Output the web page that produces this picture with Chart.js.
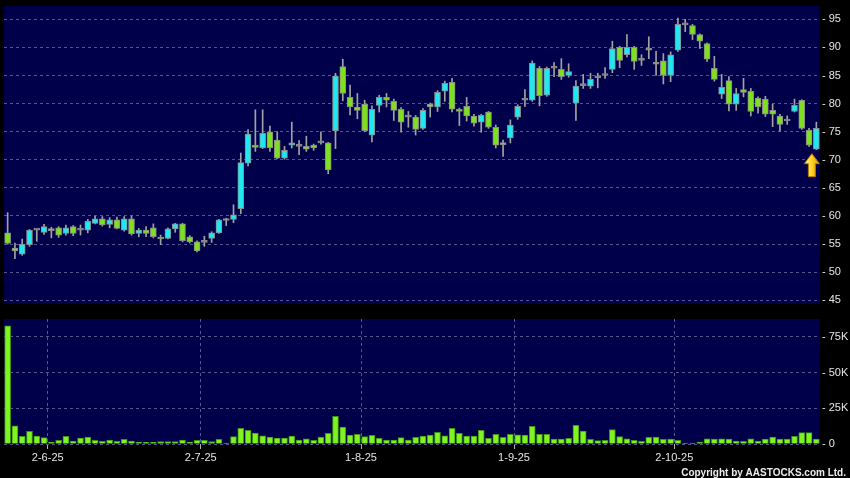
<!DOCTYPE html>
<html><head><meta charset="utf-8">
<script src="https://cdn.jsdelivr.net/npm/chart.js@4"></script>
<style>
html,body{margin:0;padding:0;background:#000;}
#wrap{position:relative;width:850px;height:478px;background:#000;overflow:hidden;}
canvas{position:absolute;left:0;}
#c1{top:0;} #c2{top:310px;}
</style></head><body>
<div id="wrap"><canvas id="c1" width="850" height="310"></canvas><canvas id="c2" width="850" height="168"></canvas></div>
<script>
const openP  = [57.0,54.3,53.2,54.9,57.5,57.1,57.4,57.9,56.9,58.1,57.5,57.5,58.7,59.5,58.5,59.3,57.5,59.5,56.9,57.5,57.9,56.2,56.0,57.7,58.6,56.3,55.4,55.3,56.0,57.0,59.2,59.4,61.3,69.4,72.6,72.1,75.0,73.5,70.3,72.6,72.4,72.4,72.6,73.0,73.0,75.2,86.6,81.1,79.4,79.9,74.4,79.7,81.1,80.4,79.0,77.6,77.6,75.6,79.9,79.4,82.2,83.8,79.0,79.5,77.8,76.7,78.5,75.8,73.0,73.9,77.6,80.6,80.6,86.3,81.5,86.3,86.1,85.0,80.1,83.2,83.1,84.6,85.0,86.1,90.0,88.7,90.0,87.7,89.5,87.0,87.6,85.0,89.5,94.0,93.9,92.3,90.7,86.3,81.7,84.1,79.9,82.5,82.2,81.0,80.8,78.8,77.8,76.9,78.6,80.6,75.3,71.9];
const highP  = [60.6,55.2,55.9,57.6,57.6,58.5,58.0,58.1,58.4,58.3,58.4,59.4,60.0,59.9,59.7,59.8,59.9,60.0,57.8,58.1,58.6,56.6,57.9,58.7,58.7,56.5,55.6,56.4,57.2,59.4,59.6,62.0,71.2,75.4,78.9,78.9,76.0,75.0,72.4,76.7,73.4,74.2,72.8,75.0,73.1,85.4,87.9,83.3,81.8,80.6,79.6,81.5,81.8,80.8,79.3,78.6,77.9,79.1,80.1,82.3,84.0,84.5,79.2,81.1,78.1,78.1,78.6,76.2,73.5,77.1,79.8,82.5,87.6,86.6,86.5,87.3,88.0,87.1,84.1,85.2,85.4,85.4,86.4,91.1,90.2,92.3,90.2,88.7,91.9,89.3,88.9,89.2,95.2,95.0,94.1,92.4,90.8,88.4,85.2,84.8,82.7,84.5,82.7,81.2,81.3,79.9,78.1,77.8,80.8,80.7,75.6,76.7];
const lowP   = [55.0,52.4,53.0,54.6,55.5,56.7,56.1,56.2,56.6,56.5,56.6,57.0,58.6,58.2,57.9,57.7,57.3,56.6,56.3,56.3,56.1,54.9,55.9,57.1,55.4,55.2,53.6,54.6,55.3,56.9,58.3,58.8,60.4,68.9,71.5,72.0,71.5,70.2,70.1,72.1,70.9,71.5,71.7,72.8,67.5,72.0,80.5,78.0,77.3,75.0,73.2,78.5,79.4,77.0,74.9,75.8,74.4,75.4,77.6,78.6,80.4,78.5,76.1,76.9,76.0,74.9,75.6,72.1,70.6,73.0,77.2,79.5,80.4,79.6,81.3,84.8,84.3,84.7,77.0,82.7,82.7,82.8,84.5,85.5,86.4,88.3,86.1,86.8,88.0,85.0,83.5,83.9,89.3,92.8,91.4,89.8,87.5,84.0,80.9,78.7,78.8,81.2,77.8,78.3,77.7,75.9,75.1,76.3,78.5,75.4,72.4,71.8];
const closeP = [55.1,53.8,55.0,57.5,57.5,58.1,57.7,56.6,57.9,56.9,57.5,59.1,59.5,58.4,59.3,57.8,59.5,56.8,57.5,56.9,56.3,55.9,57.7,58.6,55.6,55.4,53.8,55.3,57.0,59.3,59.5,60.2,69.5,74.6,72.2,74.7,72.1,70.3,71.7,73.0,72.4,71.9,72.1,73.0,68.2,84.9,81.8,79.4,78.8,75.2,79.0,81.1,80.6,78.8,76.7,77.6,75.4,78.8,79.4,82.0,83.6,79.0,78.6,77.8,76.5,77.9,75.8,72.6,72.7,76.2,79.5,80.6,87.2,81.4,86.3,86.3,84.8,85.7,83.1,83.2,84.3,84.6,85.0,89.8,87.7,90.0,87.5,87.7,89.8,87.3,85.0,88.7,94.1,94.0,92.3,91.1,87.9,84.3,82.9,79.9,81.8,82.0,78.6,79.4,78.1,78.1,76.3,76.9,79.7,75.6,72.6,75.6];
const volumeK = [82.7,12.8,5.4,8.9,5.6,4.5,1.2,2.6,5.4,2.1,4.2,4.9,2.6,1.9,2.8,1.9,3.3,2.1,1.2,1.2,1.2,1.7,1.7,1.7,2.8,1.4,2.6,2.6,1.7,3.3,0.6,5.2,11.0,9.6,7.7,5.8,4.9,4.2,4.2,5.6,2.8,3.7,2.6,4.9,7.5,19.3,11.9,6.3,6.8,5.2,6.1,4.0,2.8,2.8,4.5,2.8,4.7,5.5,6.2,8.2,5.8,11.0,7.5,5.6,5.6,9.6,4.0,6.8,4.7,6.8,6.5,6.3,12.4,6.8,6.8,3.5,3.5,4.0,13.1,9.1,3.3,2.4,2.6,10.1,5.2,3.7,2.6,1.9,4.7,4.9,3.3,3.5,2.6,0.6,0.6,1.4,3.7,3.5,3.7,3.5,2.1,1.9,3.7,2.1,3.5,4.9,3.5,3.5,5.4,8.0,8.0,3.5];
const categories = openP.map((_, i) => String(i));
const tickLabels = ['2-6-25','2-7-25','1-8-25','1-9-25','2-10-25'];
const tickIndex  = [5, 26, 48, 69, 91];
const priceTicks = [45,50,55,60,65,70,75,80,85,90,95];
const volumeTicks = [0,25,50,75];

const UP = '#22e6f0', DOWN = '#7ee01e', FLAT = '#8c8c8c';
const GRID = '#56568e', TXT = '#e4e4e4', PANEL = '#00004a';
const FONT = {family: '"Liberation Sans", Arial, sans-serif', size: 11, lineHeight: 0.6};

const bgPlugin = {
  id: 'bg',
  beforeDraw(chart) {
    const {ctx, chartArea: a} = chart;
    ctx.save(); ctx.fillStyle = '#000'; ctx.fillRect(0, 0, chart.width, chart.height);
    ctx.fillStyle = PANEL; ctx.fillRect(a.left, a.top, a.right - a.left, a.bottom - a.top); ctx.restore();
  }
};
const arrowPlugin = {
  id: 'arrow',
  afterDatasetsDraw(chart) {
    const last = openP.length - 1;
    const xs = chart.scales.x, ys = chart.scales.y, ctx = chart.ctx;
    const x = xs.getPixelForValue(last) - 4.5;
    const y0 = ys.getPixelForValue(lowP[last]) + 4;
    const g = ctx.createLinearGradient(x - 7, 0, x + 7, 0);
    g.addColorStop(0, '#fff7a0'); g.addColorStop(0.5, '#ffd21e'); g.addColorStop(1, '#e89a00');
    ctx.save();
    ctx.beginPath();
    ctx.moveTo(x, y0); ctx.lineTo(x + 7.5, y0 + 10); ctx.lineTo(x + 3.5, y0 + 10);
    ctx.lineTo(x + 3.5, y0 + 23); ctx.lineTo(x - 3.5, y0 + 23); ctx.lineTo(x - 3.5, y0 + 10);
    ctx.lineTo(x - 7.5, y0 + 10); ctx.closePath();
    ctx.fillStyle = g; ctx.fill();
    ctx.strokeStyle = '#b87800'; ctx.lineWidth = 1; ctx.stroke();
    ctx.restore();
  }
};
const copyPlugin = {
  id: 'copy',
  afterDraw(chart) {
    const ctx = chart.ctx;
    ctx.save(); ctx.font = 'bold 10px "Liberation Sans", Arial, sans-serif';
    ctx.fillStyle = '#ececec'; ctx.textAlign = 'right'; ctx.textBaseline = 'alphabetic';
    ctx.fillText('Copyright by AASTOCKS.com Ltd.', 846, 166);
    ctx.restore();
  }
};

const bodyColors = openP.map((o, i) => closeP[i] > o ? UP : (closeP[i] < o ? DOWN : FLAT));
const setTicks = (arr, shift) => (s) => { s.ticks = arr.map(v => ({value: v + (shift || 0)})); };

new Chart(document.getElementById('c1'), {
  type: 'bar',
  data: {
    labels: categories,
    datasets: [
      {data: openP.map((o, i) => [o, closeP[i]]), backgroundColor: bodyColors, borderColor: '#8a8a8a',
       borderWidth: 1, borderSkipped: false, barThickness: 6, minBarLength: 2, grouped: false},
      {data: lowP.map((l, i) => [l, highP[i]]), backgroundColor: '#a2a2a2', borderWidth: 0,
       barThickness: 1, grouped: false}
    ]
  },
  options: {
    responsive: false, animation: false, devicePixelRatio: 1, events: [],
    layout: {padding: {left: 4, top: 6, right: 0, bottom: 0}},
    plugins: {legend: {display: false}, tooltip: {enabled: false}},
    scales: {
      x: {type: 'category', offset: true,
          grid: {offset: false, color: GRID, drawTicks: false},
          border: {display: false, dash: [3, 3]},
          ticks: {display: false},
          afterBuildTicks: setTicks(tickIndex, 0.5),
          afterFit: s => { s.height = 6; }},
      y: {position: 'right', min: 44.34, max: 97.37,
          grid: {color: GRID, drawTicks: false},
          border: {display: false, dash: [3, 3]},
          ticks: {color: TXT, font: FONT, padding: 2, callback: v => '- ' + v},
          afterBuildTicks: setTicks(priceTicks),
          afterFit: s => { s.width = 30; }}
    }
  },
  plugins: [bgPlugin, arrowPlugin]
});

new Chart(document.getElementById('c2'), {
  type: 'bar',
  data: {
    labels: categories,
    datasets: [
      {data: volumeK, backgroundColor: '#80f420', borderColor: '#3e9412', borderWidth: 1,
       barThickness: 6}
    ]
  },
  options: {
    responsive: false, animation: false, devicePixelRatio: 1, events: [],
    layout: {padding: {left: 4, top: 9, right: 0, bottom: 0}},
    plugins: {legend: {display: false}, tooltip: {enabled: false}},
    scales: {
      x: {type: 'category', offset: true,
          grid: {offset: false, color: GRID, drawTicks: true, tickLength: 5, tickColor: '#b0b0b0', tickBorderDash: []},
          border: {display: false, dash: [3, 3]},
          ticks: {color: TXT, font: {family: FONT.family, size: 11}, padding: 2, maxRotation: 0, autoSkip: false,
                  callback: (v, i) => tickLabels[i]},
          afterBuildTicks: setTicks(tickIndex, 0.5),
          afterFit: s => { s.height = 34; }},
      y: {position: 'right', min: 0, max: 87.5,
          grid: {color: GRID, drawTicks: false},
          border: {display: false, dash: [3, 3]},
          ticks: {color: TXT, font: FONT, padding: 2, callback: v => '- ' + (v ? v + 'K' : '0')},
          afterBuildTicks: setTicks(volumeTicks),
          afterFit: s => { s.width = 30; }}
    }
  },
  plugins: [bgPlugin, copyPlugin]
});
</script>
</body></html>
